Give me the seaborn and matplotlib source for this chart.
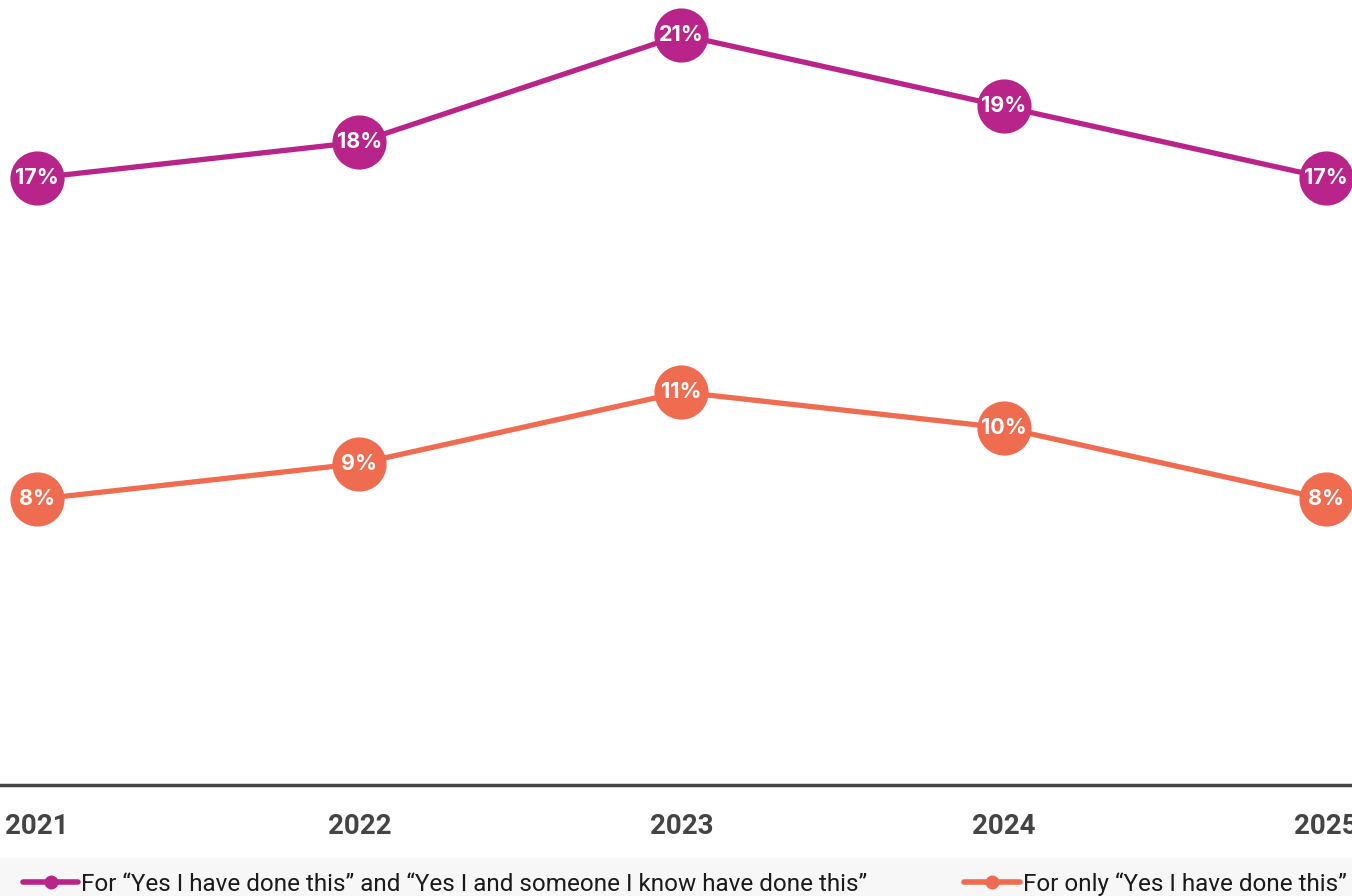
import numpy as np
import pandas as pd
import matplotlib
matplotlib.use("Agg")
import matplotlib.pyplot as plt
from matplotlib.lines import Line2D
from matplotlib.patches import Rectangle
import seaborn as sns

years = [2021, 2022, 2023, 2024, 2025]
both_vals = [17, 18, 21, 19, 17]
only_vals = [8, 9, 11, 10, 8]
series_names = ["For \u201cYes I have done this\u201d and \u201cYes I and someone I know have done this\u201d",
                "For only \u201cYes I have done this\u201d"]
colors = ["#B8248A", "#EF6C50"]

df = pd.DataFrame({
    "year": years * 2,
    "value": both_vals + only_vals,
    "series": [series_names[0]] * 5 + [series_names[1]] * 5,
})

sns.set_theme(style="white")
plt.rcParams["font.family"] = ["Inter", "DejaVu Sans"]

fig = plt.figure(figsize=(13.52, 8.96), dpi=100)
ax = fig.add_axes([0, 0.1239, 1, 0.8761])

sns.lineplot(data=df, x="year", y="value", hue="series", palette=colors,
             linewidth=3.8, marker="o", markersize=39, markeredgewidth=0,
             legend=False, ax=ax)

for vals in [both_vals, only_vals]:
    for x, v in zip(years, vals):
        ax.text(x, v, f"{v}%", ha="center", va="center", color="white",
                fontsize=15.5, fontweight="bold", zorder=10)

ax.set_xlim(2020.885, 2025.081)
ax.set_ylim(0, 21.98)
ax.set_yticks([])
ax.set_ylabel("")
ax.set_xlabel("")
ax.set_xticks(years)
ax.set_xticklabels([str(y) for y in years], fontsize=20, fontweight="bold",
                   color="#444444", family=["Roboto", "DejaVu Sans"])
ax.tick_params(axis="x", length=0, pad=20)
for s in ["top", "left", "right"]:
    ax.spines[s].set_visible(False)
ax.spines["bottom"].set_color("#444444")
ax.spines["bottom"].set_linewidth(2.5)

fig.patches.append(Rectangle((0, 0), 1, 38 / 896, transform=fig.transFigure,
                             facecolor="#F7F7F7", edgecolor="none", zorder=0))

handles = [Line2D([], [], color=c, linewidth=4, marker="o", markersize=9)
           for c in colors]
leg = fig.legend(handles, series_names, loc="lower left", bbox_to_anchor=(0.0005, -0.024),
                 ncol=2, frameon=False, handlelength=2.3,
                 handletextpad=0.1, columnspacing=4.0,
                 prop={"family": ["Roboto", "DejaVu Sans"], "size": 17.5, "weight": "normal"})
for t in leg.get_texts():
    t.set_color("#1a1a1a")

fig.savefig("out.png", dpi=100)
